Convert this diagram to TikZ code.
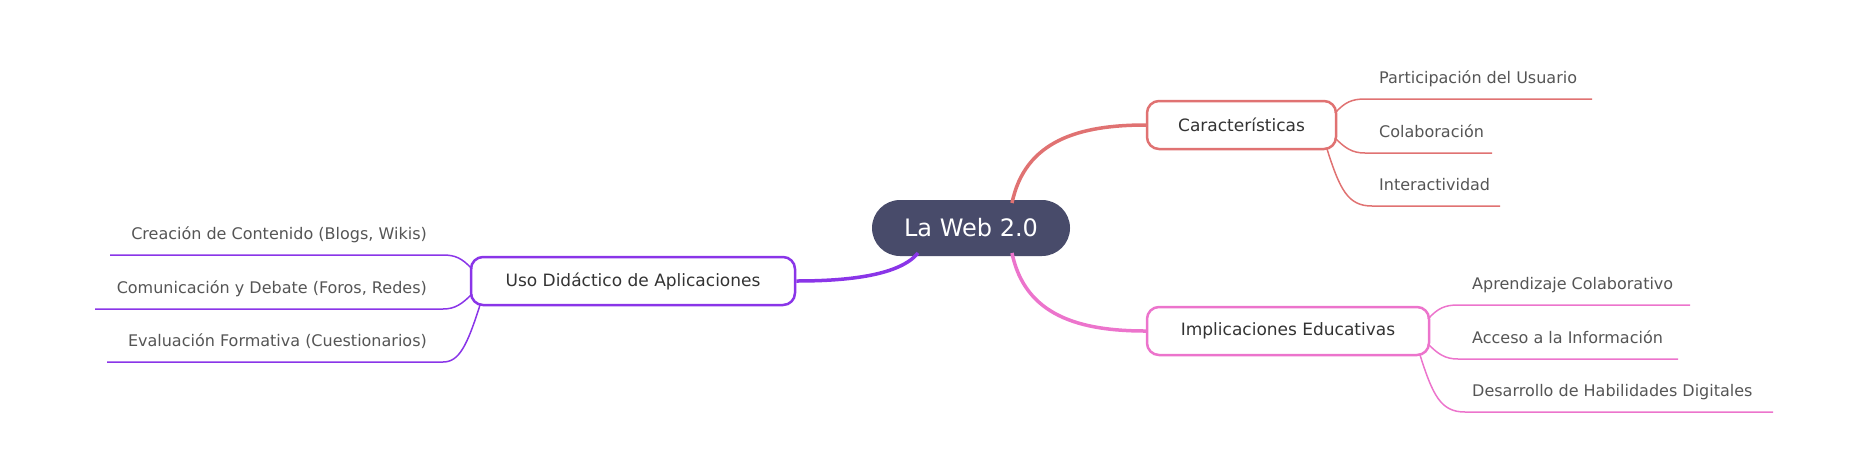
\documentclass[tikz,border=0pt]{standalone}
\usepackage{fontspec}
\setmainfont{DejaVu Sans}
\definecolor{cen}{HTML}{484B6A}
\definecolor{cr}{HTML}{E07272}
\definecolor{cp}{HTML}{EC74CC}
\definecolor{cv}{HTML}{8A35E8}
\definecolor{lt}{HTML}{555555}
\begin{document}
\begin{tikzpicture}[x=1pt,y=-1pt,
 box/.style={draw=#1,line width=2.5pt,rounded corners=12pt,minimum height=48pt,inner xsep=0pt,font=\fontsize{17}{20}\selectfont,text=black!80},
 leaf/.style={anchor=base west,inner sep=0pt,font=\fontsize{16}{19}\selectfont,text=lt},
 main/.style={line width=3.5pt},
 sub/.style={line width=1.5pt}]
\useasboundingbox (0,0) rectangle (1867,456);
\node[fill=cen,rounded corners=28pt,minimum width=198pt,minimum height=56pt,text=white,font=\fontsize{24}{28}\selectfont] (c) at (971,228) {La Web 2.0};
\node[box=cr,minimum width=189pt] (b1) at (1241.5,125) {Características};
\node[box=cp,minimum width=282pt] (b2) at (1288,331) {Implicaciones Educativas};
\node[box=cv,minimum width=324pt] (b3) at (633,281) {Uso Didáctico de Aplicaciones};
\draw[main,cr] (1012,203) .. controls (1025,140) and (1080,125) .. (b1.west);
\draw[main,cp] (1012,253) .. controls (1025,316) and (1080,331) .. (b2.west);
\draw[main,cv] (918,253) .. controls (900,275) and (850,281) .. (b3.east);
% Caracteristicas leaves
\node[leaf] (l1) at (1379,83) {Participación del Usuario};
\node[leaf] (l2) at (1379,137) {Colaboración};
\node[leaf] (l3) at (1379,190) {Interactividad};
\coordinate (l1a) at (1365,99); \coordinate (l1b) at (1592,99);
\coordinate (l2a) at (1365,153); \coordinate (l2b) at (1492,153);
\coordinate (l3a) at (1372,206); \coordinate (l3b) at (1500,206);
\draw[sub,cr] (1335,113) .. controls (1345,102) and (1352,99) .. (l1a) -- (l1b);
\draw[sub,cr] (1335,138) .. controls (1345,148) and (1352,153) .. (l2a) -- (l2b);
\draw[sub,cr] (1327,149) .. controls (1340,190) and (1348,206) .. (l3a) -- (l3b);
% Implicaciones leaves
\node[leaf] (m1) at (1472,289) {Aprendizaje Colaborativo};
\node[leaf] (m2) at (1472,343) {Acceso a la Información};
\node[leaf] (m3) at (1472,396) {Desarrollo de Habilidades Digitales};
\coordinate (m1a) at (1458,305); \coordinate (m1b) at (1690,305);
\coordinate (m2a) at (1458,359); \coordinate (m2b) at (1678,359);
\coordinate (m3a) at (1465,412); \coordinate (m3b) at (1773,412);
\draw[sub,cp] (1428,319) .. controls (1438,308) and (1445,305) .. (m1a) -- (m1b);
\draw[sub,cp] (1428,344) .. controls (1438,354) and (1445,359) .. (m2a) -- (m2b);
\draw[sub,cp] (1420,355) .. controls (1433,396) and (1441,412) .. (m3a) -- (m3b);
% Uso leaves
\node[leaf,anchor=base east] (u1) at (427,239) {Creación de Contenido (Blogs, Wikis)};
\node[leaf,anchor=base east] (u2) at (427,293) {Comunicación y Debate (Foros, Redes)};
\node[leaf,anchor=base east] (u3) at (427,346) {Evaluación Formativa (Cuestionarios)};
\coordinate (u1a) at (443,255); \coordinate (u1b) at (110,255);
\coordinate (u2a) at (443,309); \coordinate (u2b) at (95,309);
\coordinate (u3a) at (443,362); \coordinate (u3b) at (107,362);
\draw[sub,cv] (472,269) .. controls (462,258) and (455,255) .. (u1a) -- (u1b);
\draw[sub,cv] (472,294) .. controls (462,304) and (455,309) .. (u2a) -- (u2b);
\draw[sub,cv] (480,305) .. controls (467,346) and (459,362) .. (u3a) -- (u3b);
\end{tikzpicture}
\end{document}
